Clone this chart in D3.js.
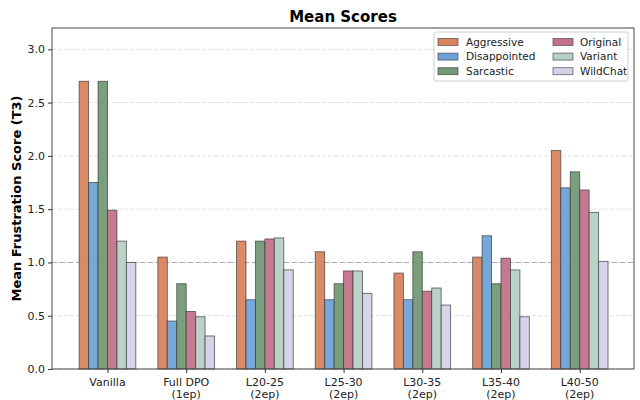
<!DOCTYPE html>
<html><head><meta charset="utf-8">
<script src="https://cdn.jsdelivr.net/npm/d3@7"></script>
<style>body{margin:0;background:#fff;} text{font-family:"DejaVu Sans",sans-serif;}</style>
</head><body><svg id="c" width="640" height="400"></svg>
<script>
const categories = ["Vanilla", "Full DPO\n(1ep)", "L20-25\n(2ep)", "L25-30\n(2ep)", "L30-35\n(2ep)", "L35-40\n(2ep)", "L40-50\n(2ep)"];
const seriesNames = ["Aggressive", "Disappointed", "Sarcastic", "Original", "Variant", "WildChat"];
const aggressive   = [2.70, 1.05, 1.20, 1.10, 0.90, 1.05, 2.05];
const disappointed = [1.75, 0.45, 0.65, 0.65, 0.65, 1.25, 1.70];
const sarcastic    = [2.70, 0.80, 1.20, 0.80, 1.10, 0.80, 1.85];
const original     = [1.49, 0.54, 1.22, 0.92, 0.73, 1.04, 1.68];
const variant      = [1.20, 0.49, 1.23, 0.92, 0.76, 0.93, 1.47];
const wildchat     = [1.00, 0.31, 0.93, 0.71, 0.60, 0.49, 1.01];
const yTicks = [0.0, 0.5, 1.0, 1.5, 2.0, 2.5, 3.0];
const colors = ["#d9845f", "#6fa3d8", "#739a76", "#c27389", "#b7d0c6", "#d5d1e8"];
const seriesValues = [aggressive, disappointed, sarcastic, original, variant, wildchat];

const svg = d3.select("#c");
const L = 52, R = 634, T = 28, B = 369;
const x = d3.scaleLinear().domain([-0.705, 6.69]).range([L, R]);
const y = d3.scaleLinear().domain([0, 3.2]).range([B, T]);
const bw = 0.12;

// grid
svg.append("g").selectAll("line").data(yTicks).join("line")
  .attr("x1", L).attr("x2", R).attr("y1", d => y(d)).attr("y2", d => y(d))
  .attr("stroke", "#cccccc").attr("stroke-width", 0.8).attr("stroke-dasharray", "4,2").attr("opacity", 0.7);
// reference line at 1.0
svg.append("line").attr("x1", L).attr("x2", R).attr("y1", y(1)).attr("y2", y(1))
  .attr("stroke", "#999").attr("stroke-width", 1).attr("stroke-dasharray", "5,3").attr("opacity", 0.8);

// bars
seriesValues.forEach((vals, s) => {
  svg.append("g").selectAll("rect").data(vals).join("rect")
    .attr("x", (d, i) => x(i + (s - 2.5) * bw - bw / 2))
    .attr("width", x(bw) - x(0))
    .attr("y", d => y(d))
    .attr("height", d => y(0) - y(d))
    .attr("fill", colors[s]).attr("fill-opacity", 0.95)
    .attr("stroke", "#3a3a3a").attr("stroke-opacity", 0.75).attr("stroke-width", 0.9);
});

// axes
const yAxis = d3.axisLeft(y).tickValues(yTicks).tickFormat(d3.format(".1f")).tickSize(4).tickPadding(3);
const gy = svg.append("g").attr("transform", `translate(${L},0)`).call(yAxis);
gy.select(".domain").remove();
gy.selectAll("text").attr("font-size", 11).attr("fill", "#222").style("font-family", "DejaVu Sans");
gy.selectAll("line").attr("stroke", "#333");

const xAxis = d3.axisBottom(x).tickValues(d3.range(categories.length)).tickFormat("").tickSize(4);
const gx = svg.append("g").attr("transform", `translate(0,${B})`).call(xAxis);
gx.select(".domain").remove();
gx.selectAll("line").attr("stroke", "#333");
categories.forEach((c, i) => {
  const lines = c.split("\n");
  const t = svg.append("text").attr("x", x(i)).attr("y", 386).attr("text-anchor", "middle")
    .attr("font-size", 11).attr("fill", "#222");
  lines.forEach((ln, k) => t.append("tspan").attr("x", x(i)).attr("dy", k === 0 ? 0 : 12).text(ln));
});

// frame
svg.append("rect").attr("x", L).attr("y", T).attr("width", R - L).attr("height", B - T)
  .attr("fill", "none").attr("stroke", "#444").attr("stroke-width", 1);

// title & y label
svg.append("text").attr("x", (L + R) / 2).attr("y", 22).attr("text-anchor", "middle")
  .attr("font-size", 15).attr("font-weight", "bold").attr("fill", "#000").text("Mean Scores");
svg.append("text").attr("transform", `translate(21,${(T + B) / 2}) rotate(-90)`).attr("text-anchor", "middle")
  .attr("font-size", 13).attr("font-weight", "bold").attr("fill", "#000").text("Mean Frustration Score (T3)");

// legend
const lg = svg.append("g");
lg.append("rect").attr("x", 434).attr("y", 32).attr("width", 194).attr("height", 49).attr("rx", 2)
  .attr("fill", "#fff").attr("fill-opacity", 0.85).attr("stroke", "#d0d0d0");
seriesNames.forEach((n, s) => {
  const col = Math.floor(s / 3), row = s % 3;
  const px = col === 0 ? 438 : 553, tx = col === 0 ? 466 : 580;
  const cy = 42 + row * 14.6;
  lg.append("rect").attr("x", px).attr("y", cy - 3.5).attr("width", 20).attr("height", 7)
    .attr("fill", colors[s]).attr("stroke", "#3a3a3a").attr("stroke-opacity", 0.75).attr("stroke-width", 0.8);
  lg.append("text").attr("x", tx).attr("y", cy + 3.8).attr("font-size", 10.5).attr("fill", "#222").text(n);
});
</script></body></html>
